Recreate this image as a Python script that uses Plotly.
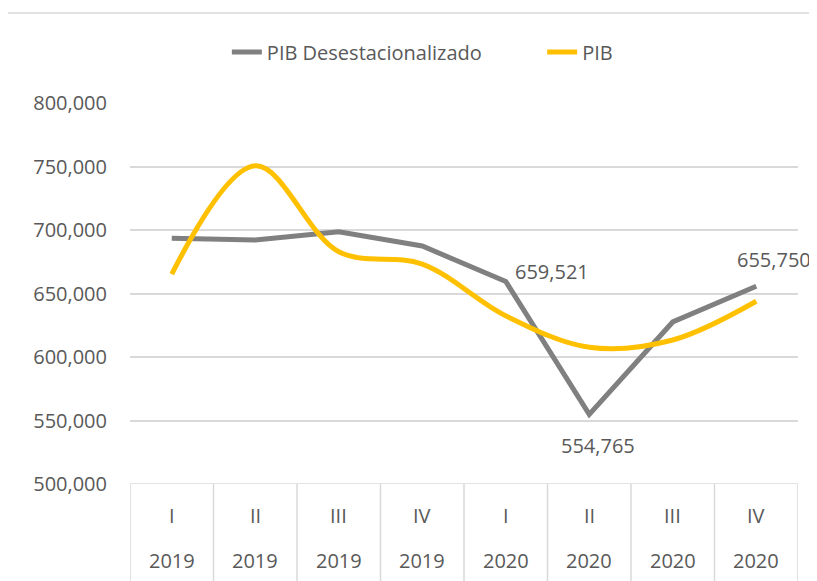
import plotly.graph_objects as go

quarters = ["I", "II", "III", "IV", "I", "II", "III", "IV"]
years = ["2019", "2019", "2019", "2019", "2020", "2020", "2020", "2020"]
pib_desest = [693450, 692100, 698660, 687380, 659521, 554765, 627600, 655750]
pib = [665300, 750500, 682900, 673200, 632500, 607650, 613400, 643900]
y_ticks = [500000, 550000, 600000, 650000, 700000, 750000, 800000]

# labelled points: (index, xshift, yshift)
labelled = [(4, 46, 10), (5, 9, -31), (7, 18, 27)]

FONT = "Open Sans"
TXT = "#595959"
GRID = "#d9d9d9"

xs = list(range(len(quarters)))

fig = go.Figure()
fig.add_trace(go.Scatter(
    x=xs, y=pib_desest, mode="lines", name="PIB Desestacionalizado",
    line=dict(color="#808080", width=5), cliponaxis=False, legend="legend",
))
fig.add_trace(go.Scatter(
    x=xs, y=pib, mode="lines", name="PIB",
    line=dict(color="#FFC000", width=5, shape="spline", smoothing=1.0), cliponaxis=False,
    legend="legend2",
))

annotations = []
for i, dx, dy in labelled:
    annotations.append(dict(
        x=xs[i], y=pib_desest[i], xref="x", yref="y", text=f"{pib_desest[i]:,}",
        showarrow=False, xshift=dx, yshift=dy,
        font=dict(family=FONT, size=20, color=TXT),
    ))

# category labels (two rows)
for i, (q, yr) in enumerate(zip(quarters, years)):
    annotations.append(dict(x=xs[i], y=-0.082, xref="x", yref="paper", text=q,
                            showarrow=False, yanchor="middle",
                            font=dict(family=FONT, size=20, color=TXT)))
    annotations.append(dict(x=xs[i], y=-0.20, xref="x", yref="paper", text=yr,
                            showarrow=False, yanchor="middle",
                            font=dict(family=FONT, size=20, color=TXT)))

shapes = []
for i in range(len(quarters) + 1):
    shapes.append(dict(type="line", xref="x", yref="paper", x0=i - 0.5, x1=i - 0.5,
                       y0=0, y1=-0.3, line=dict(color=GRID, width=1.5)))
# outer chart border
shapes.append(dict(type="line", xref="paper", yref="paper", x0=-0.185, x1=1.1,
                   y0=1.236, y1=1.236, line=dict(color=GRID, width=1.5)))
shapes.append(dict(type="line", xref="paper", yref="paper", x0=-0.185, x1=-0.185,
                   y0=1.236, y1=-0.3, line=dict(color=GRID, width=1.5)))

legend_common = dict(orientation="h", xanchor="left", y=1.134, yanchor="middle",
                     font=dict(family=FONT, size=20, color=TXT),
                     bgcolor="rgba(0,0,0,0)")

fig.update_layout(
    width=817, height=581,
    margin=dict(l=122, r=27, t=95, b=105),
    paper_bgcolor="white", plot_bgcolor="white",
    font=dict(family=FONT, size=20, color=TXT),
    showlegend=True,
    legend=dict(x=0.145, **legend_common),
    legend2=dict(x=0.617, **legend_common),
    xaxis=dict(range=[-0.5, len(quarters) - 0.5], showgrid=False, showticklabels=False,
               zeroline=False, showline=False, fixedrange=True),
    yaxis=dict(range=[500000, 800000], tickvals=y_ticks, tickformat=",",
               showgrid=True, gridcolor=GRID, gridwidth=1.5, zeroline=False,
               showline=False, ticklabelstandoff=22,
               tickfont=dict(family=FONT, size=20, color=TXT)),
    annotations=annotations,
    shapes=shapes,
)
fig.add_shape(type="line", xref="paper", yref="y", x0=0, x1=1, y0=500000, y1=500000,
              line=dict(color=GRID, width=1.5))

fig.write_html("out.html")
